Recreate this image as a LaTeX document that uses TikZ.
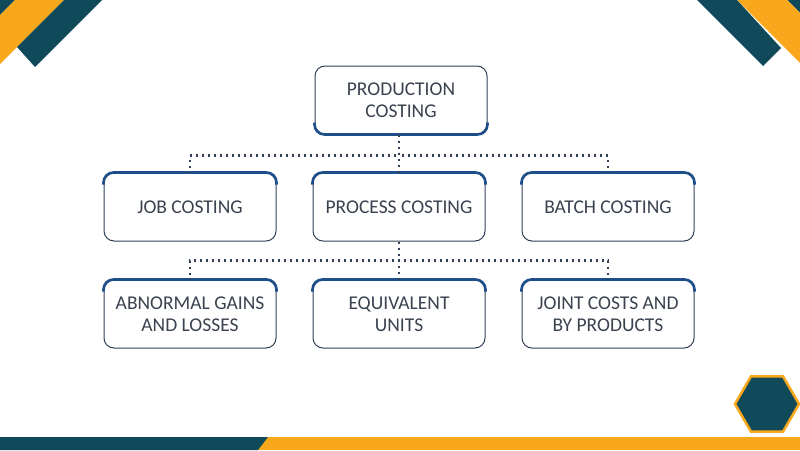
\documentclass[tikz,border=0pt]{standalone}
\usepackage{fontspec}
\setmainfont{Carlito}
\usetikzlibrary{positioning,shapes.geometric,calc}
\definecolor{bandteal}{RGB}{16,74,90}
\definecolor{bandorange}{RGB}{249,168,27}
\definecolor{boxline}{RGB}{50,64,88}
\definecolor{boxedge}{RGB}{30,78,137}
\definecolor{labeltext}{RGB}{58,66,80}
\tikzset{
  costbox/.style={draw=boxline,fill=white,line width=1pt,rounded corners=10pt,
                  minimum width=172pt,minimum height=68pt,inner sep=2pt,align=center,
                  text=labeltext,font=\fontsize{19.5}{21.5}\selectfont},
  link/.style={draw=boxline,line width=2.2pt,dash pattern=on 2pt off 4pt},
  thickedge/.style={draw=boxedge,line width=2.6pt,rounded corners=10pt},
}
\begin{document}
\begin{tikzpicture}[x=1pt,y=-1pt]
  \useasboundingbox (0,0) rectangle (800,450);
  % ---------------- corner bands ----------------
  \fill[bandteal]   (0,0) -- (15,0) -- (0,15) -- cycle;
  \fill[bandorange] (15,0) -- (64,0) -- (0,64) -- (0,15) -- cycle;
  \fill[bandteal]   (64,0) -- (102,0) -- (35,67) -- (17,47) -- cycle;
  \fill[bandteal]   (800,0) -- (787,0) -- (800,13) -- cycle;
  \fill[bandorange] (787,0) -- (737,0) -- (800,63) -- (800,13) -- cycle;
  \fill[bandteal]   (737,0) -- (697,0) -- (763,66) -- (781,48) -- cycle;
  % ---------------- bottom strip ----------------
  \fill[bandorange] (255,437) rectangle (800,450);
  \fill[bandteal]   (0,437) -- (268,437) -- (258,450) -- (0,450) -- cycle;
  \node[regular polygon,regular polygon sides=6,minimum size=64pt,inner sep=0pt,
        fill=bandteal,draw=bandorange,line width=2.5pt] (hexmark) at (767,404) {};
  % ---------------- rank 0 ----------------
  \node[costbox] (prodCost) at (401,100) {PRODUCTION\\COSTING};
  % ---------------- rank 1 ----------------
  \node[costbox] (jobCost)   at (190,207) {JOB COSTING};
  \node[costbox] (procCost)  at (399,207) {PROCESS COSTING};
  \node[costbox] (batchCost) at (608,207) {BATCH COSTING};
  % ---------------- rank 2 ----------------
  \node[costbox] (abnGains)  at (190,314) {ABNORMAL GAINS\\AND LOSSES};
  \node[costbox] (equivUnits) at (399,314) {EQUIVALENT\\UNITS};
  \node[costbox] (jointCosts) at (608,314) {JOINT COSTS AND\\BY PRODUCTS};
  % ---------------- thick edges ----------------
  \draw[thickedge] ([yshift=12pt]prodCost.south west) -- (prodCost.south west)
    -- (prodCost.south east) -- ([yshift=12pt]prodCost.south east);
  \foreach \n in {jobCost,procCost,batchCost,abnGains,equivUnits,jointCosts}{
    \draw[thickedge] ([yshift=-12pt]\n.north west) -- (\n.north west)
      -- (\n.north east) -- ([yshift=-12pt]\n.north east);}
  % ---------------- links ----------------
  \foreach \n in {jobCost,procCost,batchCost}{
    \draw[link] (prodCost.south -| procCost) -- ++(0,21) -| (\n.north);}
  \foreach \n in {abnGains,equivUnits,jointCosts}{
    \draw[link] (procCost.south) -- ++(0,19) -| (\n.north);}
\end{tikzpicture}
\end{document}
